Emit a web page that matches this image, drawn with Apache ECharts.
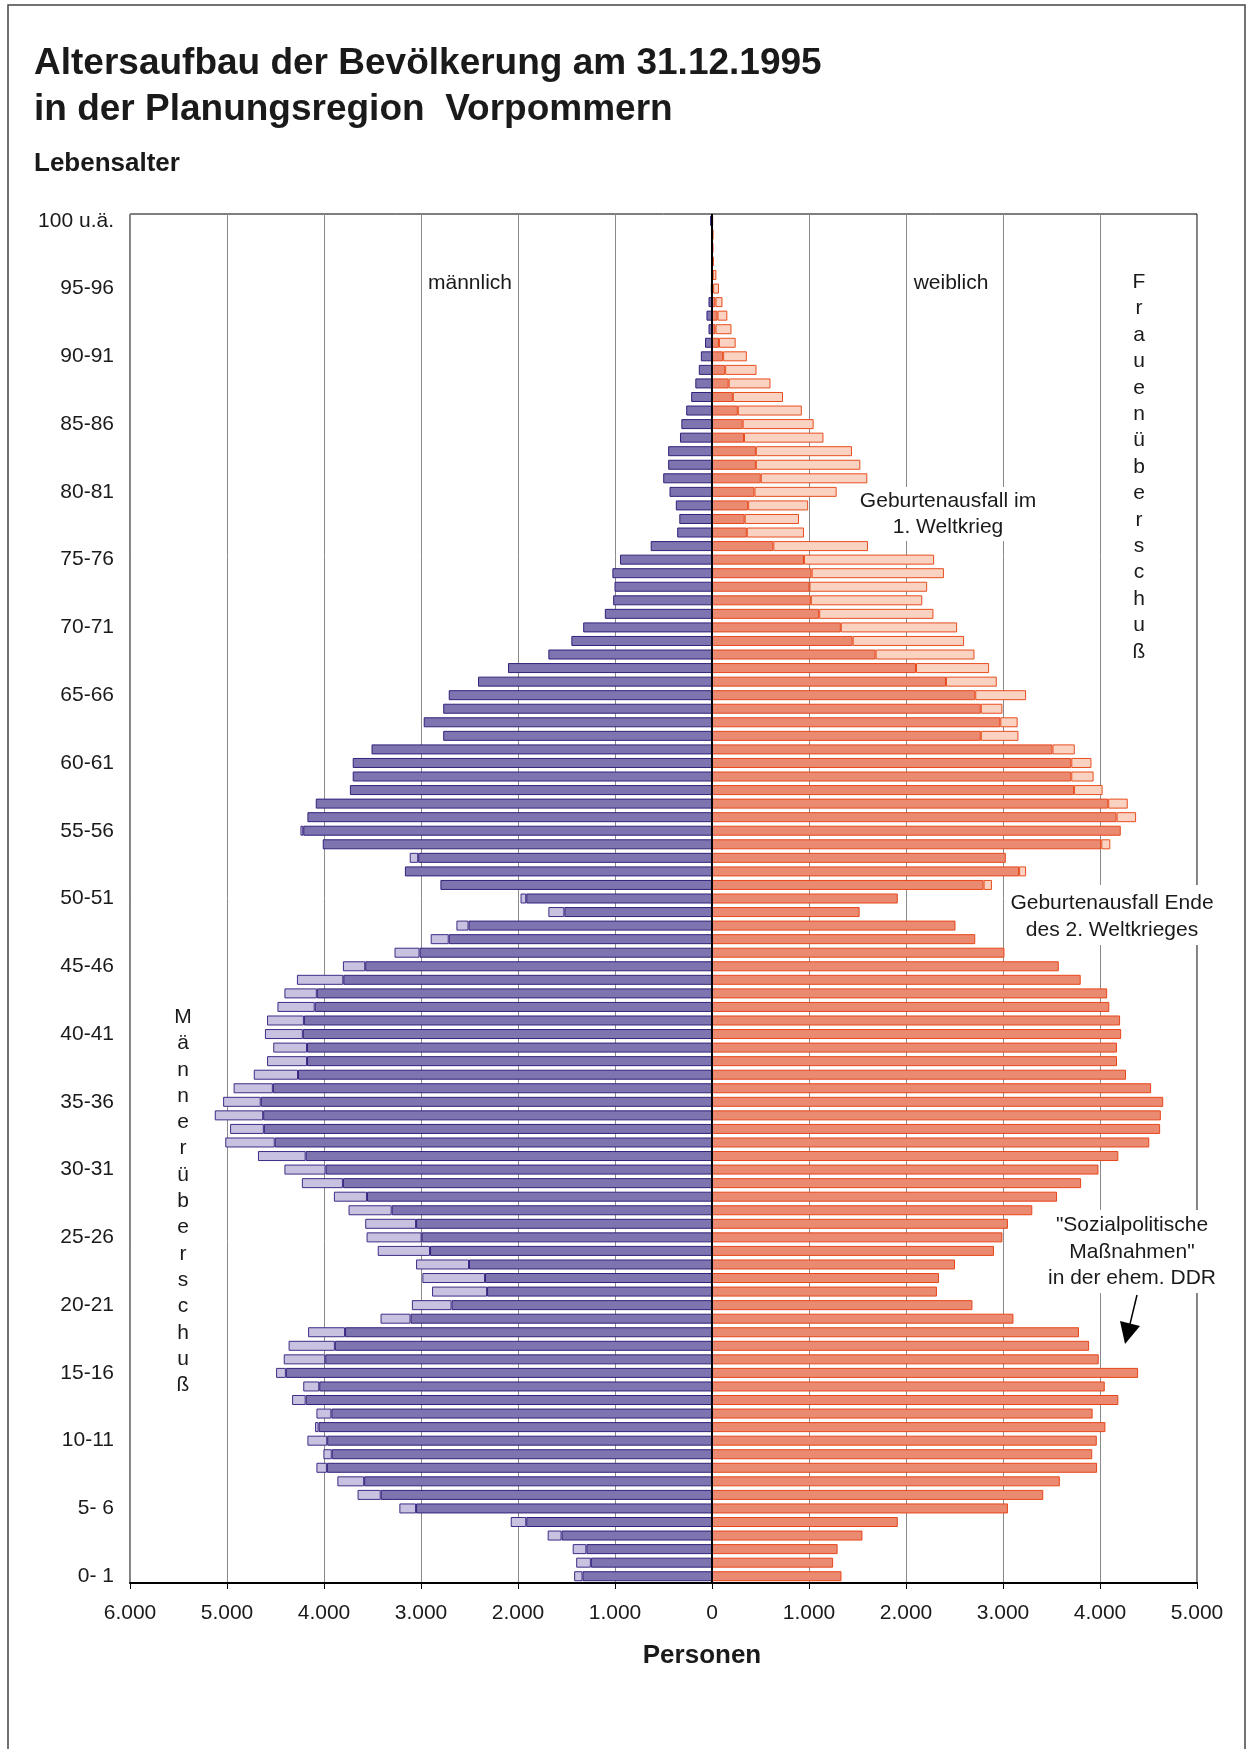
<!DOCTYPE html>
<html><head><meta charset="utf-8">
<script src="https://cdn.jsdelivr.net/npm/echarts@6/dist/echarts.min.js"></script>
<style>html,body{margin:0;padding:0;background:#fff}#c{width:1249px;height:1749px}</style>
</head><body><div id="c"></div>
<script>
const ageGroups = ['0- 1','1- 2','2- 3','3- 4','4- 5','5- 6','6- 7','7- 8','8- 9','9-10',
'10-11','11-12','12-13','13-14','14-15','15-16','16-17','17-18','18-19','19-20',
'20-21','21-22','22-23','23-24','24-25','25-26','26-27','27-28','28-29','29-30',
'30-31','31-32','32-33','33-34','34-35','35-36','36-37','37-38','38-39','39-40',
'40-41','41-42','42-43','43-44','44-45','45-46','46-47','47-48','48-49','49-50',
'50-51','51-52','52-53','53-54','54-55','55-56','56-57','57-58','58-59','59-60',
'60-61','61-62','62-63','63-64','64-65','65-66','66-67','67-68','68-69','69-70',
'70-71','71-72','72-73','73-74','74-75','75-76','76-77','77-78','78-79','79-80',
'80-81','81-82','82-83','83-84','84-85','85-86','86-87','87-88','88-89','89-90',
'90-91','91-92','92-93','93-94','94-95','95-96','96-97','97-98','98-99','99-100',
'100 u.ä.'];
// Personen je Altersjahr (0 .. 100 u.ä.)
const maleValues = [1421,1400,1436,1694,2075,3223,3654,3862,4078,4006,
4171,4092,4078,4329,4214,4494,4415,4365,4164,3417,
3094,2886,2986,3051,3446,3561,3575,3747,3898,4228,
4408,4681,5018,4968,5126,5040,4932,4724,4587,4523,
4609,4587,4480,4408,4279,3805,3273,2900,2635,1687,
1974,2800,3166,3116,4013,4243,4171,4085,3733,3704,
3704,3510,2771,2972,2771,2714,2412,2103,1687,1450,
1328,1105,1019,1005,1027,948,632,359,337,373,
438,503,452,452,330,316,266,215,172,136,
115,72,36,57,36,12,8,6,5,8,
15];
const femaleValues = [1335,1249,1295,1551,1915,3051,3415,3586,3970,3920,
3967,4056,3924,4189,4049,4393,3987,3888,3783,3108,
2685,2319,2340,2505,2907,2994,3051,3302,3557,3805,
3984,4189,4508,4620,4627,4652,4527,4268,4175,4175,
4218,4207,4096,4074,3801,3575,3015,2714,2510,1522,
1915,2886,3238,3029,4106,4214,4372,4286,4027,3934,
3912,3740,3159,3151,2994,3238,2936,2857,2706,2599,
2527,2283,2168,2218,2391,2290,1608,948,897,991,
1285,1601,1529,1443,1149,1048,926,732,603,459,
359,244,201,158,108,72,45,18,12,10,
12];
const xTicks = {min:-6000, max:5000, interval:1000};

const maleBase = maleValues.map((m,i)=>-Math.min(m,femaleValues[i]));
const maleExcess = maleValues.map((m,i)=> m>femaleValues[i] ? -(m-femaleValues[i]) : null);
const femaleBase = femaleValues.map((f,i)=>Math.min(f,maleValues[i]));
const femaleExcess = femaleValues.map((f,i)=> f>maleValues[i] ? f-maleValues[i] : null);

const FF = "'Liberation Sans', Arial, Helvetica, sans-serif";
const chart = echarts.init(document.getElementById('c'), null, {renderer:'canvas'});
const bw = 10;
function vtext(str, x, y, lh){
  return {type:'text', x:x, y:y, z:100, style:{text:str.split('').join('\n'), fontFamily:FF, fontSize:21, fill:'#1a1a1a', align:'center', verticalAlign:'top', lineHeight:lh}};
}
const option = {
  animation:false,
  backgroundColor:'#fff',
  grid:{left:130, right:52, top:214, bottom:166, show:true, borderColor:'#000', borderWidth:1, containLabel:false},
  xAxis:{type:'value', min:xTicks.min, max:xTicks.max, interval:xTicks.interval,
    axisLine:{show:true, onZero:false, lineStyle:{color:'#000', width:2}},
    axisTick:{show:true, length:6, lineStyle:{color:'#000'}},
    splitLine:{show:true, lineStyle:{color:'#8a8a8a', width:1}},
    axisLabel:{margin:20, fontFamily:FF, fontSize:21, color:'#1a1a1a',
      formatter:function(v){const a=Math.abs(v); return a===0?'0':(a/1000)+'.000';}}
  },
  yAxis:{type:'category', data:ageGroups, boundaryGap:true,
    axisLine:{show:false}, axisTick:{show:false}, splitLine:{show:false},
    axisLabel:{interval:4, margin:16, fontFamily:FF, fontSize:21, color:'#1a1a1a'}
  },
  series:[
    {name:'männlich', type:'bar', stack:'m', data:maleBase, barWidth:bw, barGap:'-100%',
      itemStyle:{color:'#7d74b0', borderColor:'#34207a', borderWidth:1}},
    {name:'Männerüberschuß', type:'bar', stack:'m', data:maleExcess, barWidth:bw, barGap:'-100%',
      itemStyle:{color:'#c9c1e0', borderColor:'#3e2c86', borderWidth:1}},
    {name:'weiblich', type:'bar', stack:'f', data:femaleBase, barWidth:bw, barGap:'-100%',
      itemStyle:{color:'#ea8a70', borderColor:'#e8461b', borderWidth:1}},
    {name:'Frauenüberschuß', type:'bar', stack:'f', data:femaleExcess, barWidth:bw, barGap:'-100%',
      itemStyle:{color:'#fad2c2', borderColor:'#e84e1e', borderWidth:1},
      markLine:{silent:true, symbol:['none','none'], label:{show:false}, animation:false,
        lineStyle:{color:'#000', width:2, type:'solid'}, data:[{xAxis:0}]}}
  ],
  graphic:[
    {type:'rect', z:100, shape:{x:8, y:5, width:1237, height:1800}, style:{fill:'none', stroke:'#444', lineWidth:1.5}},
    {type:'text', z:100, x:34, y:64, style:{text:'Altersaufbau der Bevölkerung am 31.12.1995', fontFamily:FF, fontSize:37, fontWeight:'bold', fill:'#1a1a1a', align:'left', verticalAlign:'middle'}},
    {type:'text', z:100, x:34, y:110, style:{text:'in der Planungsregion  Vorpommern', fontFamily:FF, fontSize:37, fontWeight:'bold', fill:'#1a1a1a', align:'left', verticalAlign:'middle'}},
    {type:'text', z:100, x:34, y:164, style:{text:'Lebensalter', fontFamily:FF, fontSize:26, fontWeight:'bold', fill:'#1a1a1a', align:'left', verticalAlign:'middle'}},
    {type:'text', z:100, x:702, y:1656, style:{text:'Personen', fontFamily:FF, fontSize:26, fontWeight:'bold', fill:'#1a1a1a', align:'center', verticalAlign:'middle'}},
    {type:'text', z:100, x:470, y:283, style:{text:'männlich', fontFamily:FF, fontSize:21, fill:'#1a1a1a', align:'center', verticalAlign:'middle'}},
    {type:'text', z:100, x:951, y:283, style:{text:'weiblich', fontFamily:FF, fontSize:21, fill:'#1a1a1a', align:'center', verticalAlign:'middle'}},
    vtext('Frauenüberschuß', 1139, 269, 26.4),
    vtext('Männerüberschuß', 183, 1004, 26.3),
    {type:'rect', z:99, shape:{x:856, y:487, width:186, height:54}, style:{fill:'#fff'}},
    {type:'text', z:100, x:948, y:514, style:{text:'Geburtenausfall im\n1. Weltkrieg', fontFamily:FF, fontSize:21, fill:'#1a1a1a', align:'center', verticalAlign:'middle', lineHeight:26}},
    {type:'rect', z:99, shape:{x:1006, y:885, width:212, height:60}, style:{fill:'#fff'}},
    {type:'text', z:100, x:1112, y:917, style:{text:'Geburtenausfall Ende\ndes 2. Weltkrieges', fontFamily:FF, fontSize:21, fill:'#1a1a1a', align:'center', verticalAlign:'middle', lineHeight:27}},
    {type:'rect', z:99, shape:{x:1042, y:1210, width:182, height:83}, style:{fill:'#fff'}},
    {type:'text', z:100, x:1132, y:1252, style:{text:'"Sozialpolitische\nMaßnahmen"\nin der ehem. DDR', fontFamily:FF, fontSize:21, fill:'#1a1a1a', align:'center', verticalAlign:'middle', lineHeight:26.7}},
    {type:'line', z:100, shape:{x1:1137, y1:1295, x2:1130, y2:1324}, style:{stroke:'#000', lineWidth:1.5}},
    {type:'polygon', z:100, shape:{points:[[1120,1321],[1140,1326],[1125,1344]]}, style:{fill:'#000'}}
  ]
};
chart.setOption(option);
</script></body></html>
